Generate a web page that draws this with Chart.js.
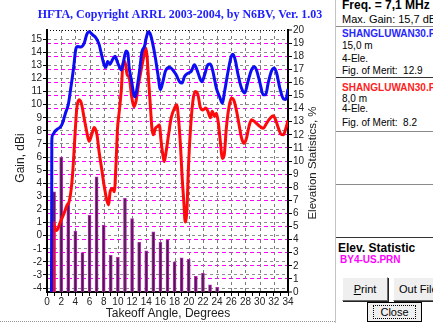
<!DOCTYPE html>
<html>
<head>
<meta charset="utf-8">
<script src="https://cdn.jsdelivr.net/npm/chart.js@4.4.0/dist/chart.umd.min.js"></script>
<style>
  body{margin:0;width:433px;height:323px;overflow:hidden;background:#fff;position:relative;font-family:"Liberation Sans",Arial,sans-serif;color:#000}
  #chart{position:absolute;left:0;top:0}
  #panel{position:absolute;left:335px;top:0;width:98px;height:323px;border-left:1px solid #c4c4c4;overflow:hidden}
  #panel .t{position:absolute;left:6px;white-space:nowrap;font-size:10px;line-height:12px}
  #panel .b{font-weight:bold}
  #panel .sep{position:absolute;left:0;width:98px;height:0;border-top:1px solid #8a8a8a;border-bottom:1px solid #fff}
  .btn{position:absolute;height:22px;background:#efefef;border:1px solid;border-color:#fff #6a6a6a #6a6a6a #fff;box-shadow:1px 1px 0 #222;font-size:11px;line-height:22px;text-align:center;white-space:nowrap}
  #hline{position:absolute;left:0;top:321px;width:335px;border-top:1px dotted #999}
</style>
</head>
<body>
<canvas id="chart" width="334" height="323"></canvas>
<div id="hline"></div>
<div id="panel">
  <div class="t b" style="top:-1px;font-size:12px">Freq. = 7,1 MHz</div>
  <div class="t" style="top:13px;font-size:11px">Max. Gain: 15,7 dBi</div>
  <div class="sep" style="top:26px"></div>
  <div class="t b" style="top:28px;color:#2626ff">SHANGLUWAN30.PRN</div>
  <div class="t" style="top:40px">15,0 m</div>
  <div class="t" style="top:53px">4-Ele.</div>
  <div class="t" style="top:65px">Fig. of Merit:&nbsp; 12.9</div>
  <div class="sep" style="top:77px;border-top-color:#333"></div>
  <div class="t b" style="top:82px;color:#ff2020">SHANGLUWAN30.PRN</div>
  <div class="t" style="top:93px">8,0 m</div>
  <div class="t" style="top:103px">4-Ele.</div>
  <div class="t" style="top:117px">Fig. of Merit:&nbsp; 8.2</div>
  <div class="sep" style="top:131px"></div>
  <div class="sep" style="top:184px"></div>
  <div class="sep" style="top:237px;border-top-color:#333"></div>
  <div class="t b" style="top:242px;left:2px;font-size:12px">Elev. Statistic</div>
  <div class="t b" style="top:254px;left:4px;color:#ff00ff">BY4-US.PRN</div>
  <div class="btn" style="left:6px;top:277px;width:44px"><u>P</u>rint</div>
  <div class="btn" style="left:57px;top:277px;width:60px;text-align:left;padding-left:5px">Out File</div>
  <div class="btn" style="left:31px;top:302px;width:53px;height:18px;line-height:18px;border:1px solid #000;box-shadow:none"><span style="border:1px dotted #000;padding:0 6px">Close</span></div>
</div>
<script>
// vertical pattern, upper antenna (blue) and lower antenna (red): angle in degrees, gain in dBi
const blueDeg = [0.58, 0.68, 0.8, 1.1, 1.5, 1.9, 2.2, 2.6, 3.0, 3.35,
  3.75, 4.05, 4.3, 4.75, 5.25, 5.6, 5.95, 6.4, 6.9, 7.35,
  7.7, 8.05, 8.3, 8.55, 8.9, 9.25, 9.6, 9.9, 10.2, 10.5,
  10.8, 11.15, 11.4, 11.6, 11.95, 12.25, 12.45, 12.7, 13.05, 13.4,
  13.75, 14.0, 14.3, 14.6, 14.9, 15.3, 15.65, 16.0, 16.35, 16.7,
  17.3, 17.75, 18.2, 18.7, 19.05, 19.4, 19.9, 20.35, 20.8, 21.2,
  21.55, 21.85, 22.25, 22.7, 23.05, 23.4, 23.9, 24.35, 24.75, 25.05,
  25.55, 26.0, 26.25, 26.6, 26.95, 27.45, 27.9, 28.35, 28.85, 29.25,
  29.55, 30.05, 30.5, 30.85, 31.2, 31.7, 32.05, 32.4, 32.85, 33.35,
  33.7, 34.0];
const blueGain = [-20, 7.3, 7.7, 7.95, 8.15, 8.3, 8.6, 9.35, 10.0, 11.25,
  12.8, 14.2, 14.45, 14.4, 14.7, 15.35, 15.56, 15.35, 15.1, 14.6,
  13.8, 13.05, 12.85, 13.3, 13.1, 13.45, 13.7, 13.3, 12.9, 12.65,
  13.3, 14.1, 13.95, 12.8, 11.75, 10.75, 10.6, 11.25, 12.55, 14.05,
  14.45, 15.1, 15.56, 15.35, 14.7, 13.55, 12.3, 11.15, 11.75, 12.55,
  12.85, 12.65, 12.3, 11.75, 11.65, 12.15, 12.4, 12.55, 13.05, 12.6,
  12.05, 11.75, 12.3, 13.05, 13.1, 12.55, 11.25, 10.6, 10.1, 11.0,
  12.55, 13.7, 13.85, 13.3, 12.3, 11.25, 10.9, 11.75, 12.65, 12.9,
  12.65, 11.65, 10.75, 10.75, 11.65, 12.6, 12.8, 12.4, 11.25, 10.45,
  10.4, 11.2];

const redDeg = [0.88, 0.93, 1.1, 1.37, 1.85, 2.4, 2.8, 3.12, 3.4, 3.6,
  3.8, 3.95, 4.2, 4.5, 4.85, 5.25, 5.6, 5.95, 6.3, 6.65,
  7.05, 7.35, 7.7, 8.05, 8.45, 8.7, 8.9, 9.25, 9.5, 9.75,
  9.95, 10.2, 10.5, 10.7, 11.0, 11.3, 11.6, 11.95, 12.25, 12.55,
  12.9, 13.25, 13.6, 13.9, 14.1, 14.35, 14.6, 14.8, 15.0, 15.3,
  15.6, 15.85, 16.1, 16.35, 16.55, 16.8, 17.15, 17.5, 18.0, 18.3,
  18.55, 18.85, 19.05, 19.3, 19.5, 19.75, 19.95, 20.25, 20.6, 20.9,
  21.3, 21.65, 22.0, 22.4, 22.7, 23.05, 23.3, 23.65, 23.9, 24.15,
  24.45, 24.75, 25.0, 25.3, 25.65, 26.0, 26.35, 26.75, 27.1, 27.45,
  27.8, 28.15, 28.5, 28.85, 29.3, 29.8, 30.5, 31.0, 31.45, 31.9,
  32.25, 32.65, 33.0, 33.35, 33.7, 34.0];
const redGain = [-20, 1.0, 0.6, 0.4, 1.0, 1.7, 2.3, 2.6, 3.5, 4.6,
  6.3, 7.7, 9.7, 10.37, 10.1, 8.95, 7.95, 7.2, 7.7, 8.25,
  7.7, 6.4, 5.15, 3.85, 2.7, 2.35, 3.35, 3.6, 3.35, 5.65,
  8.2, 9.5, 11.25, 13.05, 13.3, 12.3, 12.05, 10.6, 9.85, 10.25,
  11.5, 12.55, 13.55, 14.35, 13.8, 11.75, 9.75, 8.2, 7.7, 8.2,
  8.35, 8.45, 7.2, 6.15, 5.65, 6.4, 7.7, 8.95, 9.75, 10.0,
  8.95, 6.7, 4.6, 2.6, 1.05, 2.1, 5.15, 8.2, 10.35, 11.0,
  10.75, 9.75, 9.6, 9.75, 9.5, 9.0, 9.5, 9.1, 9.35, 8.7,
  7.2, 5.9, 6.15, 8.2, 9.75, 10.5, 10.35, 9.5, 8.45, 7.45,
  7.05, 7.45, 8.35, 8.85, 8.7, 8.45, 8.2, 8.6, 8.95, 9.15,
  8.85, 8.2, 7.75, 7.7, 8.2, 8.8];

// elevation statistics, % of openings per degree
const statDeg = [1, 2, 3, 4, 5, 6, 7, 8, 9, 10, 11, 12, 13, 14, 15, 16, 17, 18, 19, 20, 21, 22, 23, 24];
const statPct = [7.65, 10.3, 6.8, 4.65, 3.0, 5.85, 8.8, 5.1, 2.8, 2.65, 7.15, 5.6,
  3.8, 3.15, 4.6, 3.8, 4.0, 2.3, 2.6, 2.5, 1.2, 1.45, 0.55, 0.35];

const gainTicks = [-4, -3, -2, -1, 0, 1, 2, 3, 4, 5, 6, 7, 8, 9, 10, 11, 12, 13, 14, 15];
const angleTicks = Array.from({length: 35}, (_, i) => i);
const TITLE = "HFTA, Copyright ARRL 2003-2004, by N6BV, Ver. 1.03";

const pts = (xs, ys) => xs.map((x, i) => ({x, y: ys[i]}));
const inside = (c, lo, hi) => c.tick && c.tick.value > lo && c.tick.value < hi;

const extras = {
  id: "extras",
  beforeDatasetsDraw(chart) {
    const {ctx, chartArea: a, scales} = chart;
    ctx.save();
    ctx.lineWidth = 1;
    // vertical grid every 2 degrees
    ctx.strokeStyle = "#7a7a7a"; ctx.setLineDash([3, 3]);
    angleTicks.filter(v => v % 2 === 0 && v > 0 && v < 34).forEach(v => {
      const px = Math.round(scales.x.getPixelForValue(v)) + 0.5;
      ctx.beginPath(); ctx.moveTo(px, a.top); ctx.lineTo(px, a.bottom); ctx.stroke();
    });
    // dotted top edge
    ctx.strokeStyle = "#000"; ctx.setLineDash([1, 2]);
    ctx.beginPath(); ctx.moveTo(a.left, a.top + 0.5); ctx.lineTo(a.right, a.top + 0.5); ctx.stroke();
    ctx.restore();
  },
  afterDraw(chart) {
    const ctx = chart.ctx;
    ctx.save();
    ctx.textAlign = "center"; ctx.textBaseline = "middle";
    ctx.fillStyle = "#1e1eff"; ctx.font = 'bold 12px "Liberation Serif"';
    ctx.fillText(TITLE, 180, 15);
    ctx.fillStyle = "#222"; ctx.font = '12px "Liberation Sans"';
    ctx.fillText("Takeoff Angle, Degrees", 168, 314);
    ctx.save(); ctx.translate(21, 158); ctx.rotate(-Math.PI / 2);
    ctx.fillText("Gain, dBi", 0, 0); ctx.restore();
    ctx.save(); ctx.translate(313, 163); ctx.rotate(-Math.PI / 2);
    ctx.font = '11.5px "Liberation Sans"';
    ctx.fillText("Elevation Statistics, %", 0, 0); ctx.restore();
    ctx.restore();
  }
};

const tickFont = {family: "Liberation Sans", size: 10};

new Chart(document.getElementById("chart"), {
  type: "bar",
  data: {
    datasets: [
      {type: "line", data: pts(blueDeg, blueGain), yAxisID: "y", borderColor: "#0c0cf5", borderWidth: 3,
        pointRadius: 0, cubicInterpolationMode: "monotone", order: 1},
      {type: "line", data: pts(redDeg, redGain), yAxisID: "y", borderColor: "#ff0a0a", borderWidth: 3,
        pointRadius: 0, cubicInterpolationMode: "monotone", order: 2},
      {type: "bar", data: pts(statDeg, statPct), yAxisID: "y2", backgroundColor: "#4a1c48",
        borderColor: "#b828b8", borderWidth: 1, barThickness: 3, order: 3}
    ]
  },
  options: {
    responsive: false, animation: false, devicePixelRatio: 1,
    layout: {padding: {top: 30, left: 0, right: 0, bottom: 0}},
    plugins: {legend: {display: false}, tooltip: {enabled: false}},
    scales: {
      x: {
        type: "linear", min: 0, max: 34, offset: false,
        afterFit: s => { s.height = 31; },
        afterBuildTicks: s => { s.ticks = angleTicks.map(v => ({value: v})); },
        ticks: {autoSkip: false, maxRotation: 0, padding: 0, color: "#222", font: tickFont,
          callback: v => v % 2 ? "" : v},
        grid: {drawOnChartArea: false, tickColor: "#000", tickWidth: 1, tickBorderDash: [], tickLength: 4, offset: false},
        border: {color: "#000", width: 2}
      },
      y: {
        position: "left", min: -4.3, max: 15.7,
        afterFit: s => { s.width = 47; },
        afterBuildTicks: s => { s.ticks = gainTicks.map(v => ({value: v})); },
        ticks: {autoSkip: false, padding: 1, color: "#222", font: tickFont},
        grid: {color: "#8c8c8c", tickColor: "#000", tickWidth: 1, tickBorderDash: [], tickLength: 4},
        border: {color: "#000", width: 2, dash: [3, 3]}
      },
      y2: {
        position: "right", min: 0, max: 20,
        afterFit: s => { s.width = 46; },
        ticks: {autoSkip: false, stepSize: 1, padding: 1, color: "#222", font: tickFont},
        grid: {color: "#ff00ff", lineWidth: c => inside(c, 0, 20) ? 1 : 0,
          tickColor: "#000", tickWidth: 1, tickBorderDash: [], tickLength: 4},
        border: {color: "#000", width: 2, dash: [4, 3]}
      }
    }
  },
  plugins: [extras]
});
</script>
</body>
</html>
